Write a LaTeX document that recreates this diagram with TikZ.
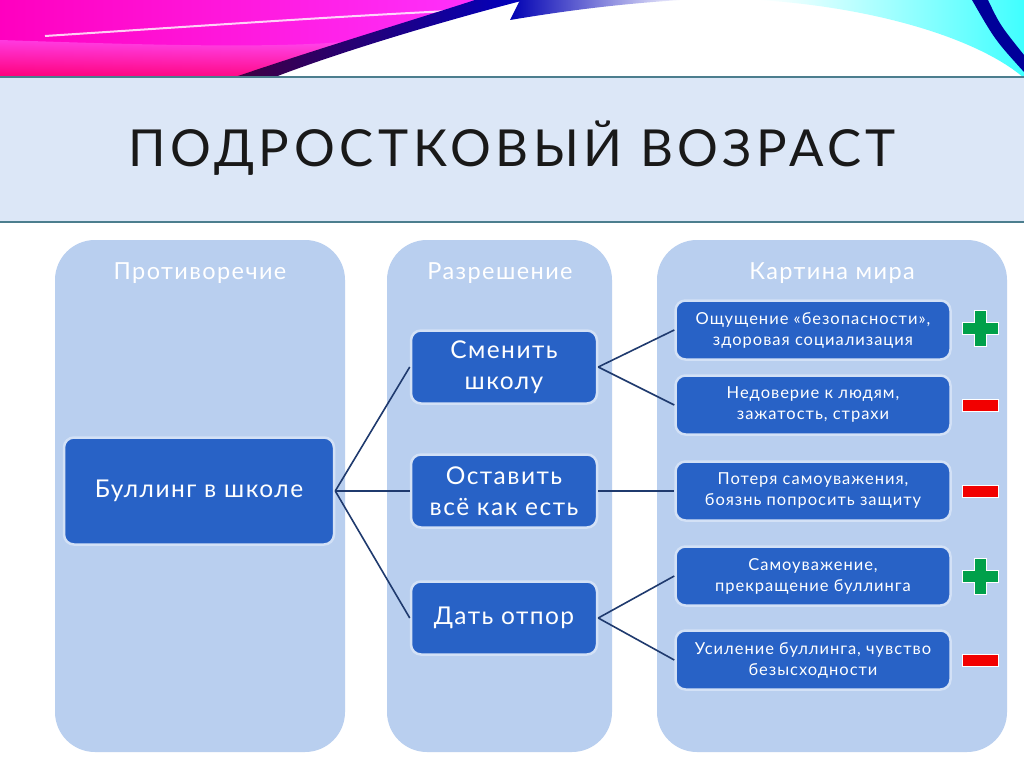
\documentclass[tikz,border=0pt]{standalone}
\usepackage{fontspec}
\setmainfont{Lato}[LetterSpace=6]
\newfontfamily\titlefont[LetterSpace=9]{Lato}
\usetikzlibrary{positioning}
\definecolor{band}{HTML}{DCE7F7}
\definecolor{colfill}{HTML}{B9CFEF}
\definecolor{boxfill}{HTML}{2862C6}
\definecolor{boxrim}{HTML}{D3E1F6}
\definecolor{linkc}{HTML}{1F3A6E}
\definecolor{rulec}{HTML}{4C7E8E}
\definecolor{plusc}{HTML}{00A04A}
\definecolor{minusc}{HTML}{F20000}
\newcommand\plusmark[2]{\filldraw[fill=plusc,draw=white,line width=1pt] (#1-18,#2-6) -- (#1-6,#2-6) -- (#1-6,#2-18) -- (#1+6,#2-18) -- (#1+6,#2-6) -- (#1+18,#2-6) -- (#1+18,#2+6) -- (#1+6,#2+6) -- (#1+6,#2+18) -- (#1-6,#2+18) -- (#1-6,#2+6) -- (#1-18,#2+6) -- cycle;}
\newcommand\minusmark[2]{\filldraw[fill=minusc,draw=white,line width=1pt] (#1-18,#2-6) rectangle (#1+18,#2+6);}
\begin{document}
\begin{tikzpicture}[x=1pt,y=-1pt,
  column/.style={fill=colfill,rounded corners=40pt},
  coltitle/.style={text=white,font=\fontsize{23.5}{28}\selectfont},
  lvl/.style={draw=boxrim,line width=2.5pt,fill=boxfill,rounded corners=10pt,text=white,align=center,font=\fontsize{24.5}{31}\selectfont},
  res/.style={lvl,minimum width=275pt,minimum height=59pt,font=\fontsize{16.5}{21}\selectfont},
  link/.style={draw=linkc,line width=1.6pt}]
\useasboundingbox (0,0) rectangle (1024,767);
\fill[white] (0,0) rectangle (1024,767);
% top ribbons
\shade[left color=magenta!75!red, right color=magenta!80] (0,0) -- (500,0) .. controls (420,25) and (330,50) .. (255,77) -- (0,77) -- cycle;
\shade[bottom color=red!70!magenta, top color=magenta!60, opacity=0.6] (0,40) .. controls (150,45) and (300,50) .. (380,38) -- (270,77) -- (0,77) -- cycle;
\draw[white,line width=2pt,opacity=0.8] (45,36) .. controls (200,26) and (340,16) .. (470,10);
\shade[left color=violet!50!black, right color=blue!75!black] (235,77) .. controls (320,48) and (420,18) .. (475,0) -- (525,0) .. controls (440,22) and (340,52) .. (275,77) -- cycle;
\shade[left color=blue!70!black, right color=blue!5] (520,0) -- (680,0) .. controls (620,4) and (570,10) .. (510,20) -- cycle;
\shade[left color=white, right color=cyan!75] (760,0) -- (1024,0) -- (1024,78) .. controls (980,40) and (880,8) .. (760,0) -- cycle;
\fill[blue!60!black] (972,0) -- (988,0) .. controls (1000,25) .. (1024,55) -- (1024,72) .. controls (995,40) .. (972,0) -- cycle;
% title band
\fill[band] (0,77) rectangle (1024,222);
\draw[rulec,line width=1.2pt] (0,77) -- (1024,77);
\draw[rulec,line width=1.2pt] (0,222) -- (1024,222);
\node[text=black!90,font=\titlefont\fontsize{51}{60}\selectfont] (title) at (512,148) {ПОДРОСТКОВЫЙ ВОЗРАСТ};
% columns
\fill[column] (55,240) rectangle (345,752);
\fill[column] (387,240) rectangle (612,752);
\fill[column] (657,240) rectangle (1007,752);
\node[coltitle] (t1) at (200,273) {Противоречие};
\node[coltitle] (t2) at (500,273) {Разрешение};
\node[coltitle] (t3) at (832,273) {Картина мира};
% boxes
\node[lvl,minimum width=270pt,minimum height=107pt] (bul) at (199,491) {Буллинг в школе};
\node[lvl,minimum width=186pt,minimum height=73pt] (change) at (504,367) {Сменить\\школу};
\node[lvl,minimum width=186pt,minimum height=73pt] (leave) at (504,491) {Оставить\\всё как есть};
\node[lvl,minimum width=186pt,minimum height=73pt] (fight) at (504,618) {Дать отпор};
\node[res] (r1) at (813,330) {Ощущение «безопасности»,\\здоровая социализация};
\node[res] (r2) at (813,405) {Недоверие к людям,\\зажатость, страхи};
\node[res] (r3) at (813,491) {Потеря самоуважения,\\боязнь попросить защиту};
\node[res] (r4) at (813,576) {Самоуважение,\\прекращение буллинга};
\node[res] (r5) at (813,660) {Усиление буллинга, чувство\\безысходности};
% links
\foreach \m in {change,leave,fight}{\draw[link] (bul.east) -- (\m.west);}
\draw[link] (change.east) -- (r1.west);
\draw[link] (change.east) -- (r2.west);
\draw[link] (leave.east) -- (r3.west);
\draw[link] (fight.east) -- (r4.west);
\draw[link] (fight.east) -- (r5.west);
% signs
\plusmark{980}{328}
\minusmark{980}{405}
\minusmark{980}{491}
\plusmark{980}{576}
\minusmark{980}{660}
\end{tikzpicture}
\end{document}
